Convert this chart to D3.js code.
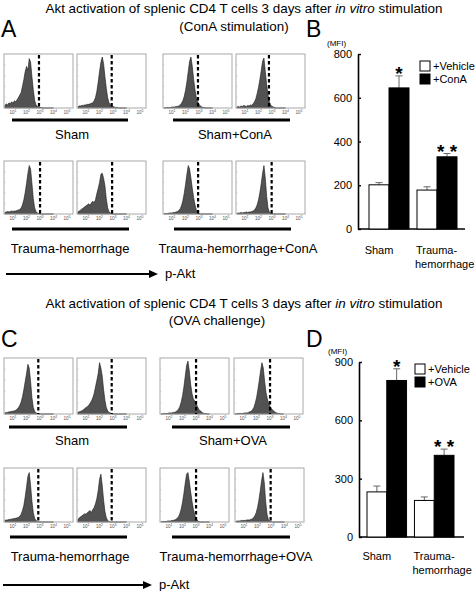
<!DOCTYPE html>
<html><head><meta charset="utf-8">
<script src="https://cdn.jsdelivr.net/npm/d3@7"></script>
<style>body{margin:0;background:#fff}svg{display:block;font-family:"Liberation Sans",Arial,sans-serif}</style>
</head><body><svg id="c" width="475" height="591"></svg>
<script>
// ---------- DATA ----------
// histogram bins (log10 of p-Akt fluorescence)
const binsLog = [0.4,0.5,0.6,0.7,0.8,0.9,1.0,1.1,1.2,1.3,1.4,1.5,1.6,1.7,1.8,1.9,2.0,2.1,2.2,2.3,2.4,2.5,2.6,2.7,2.8,2.9,3.0,3.1,3.2,3.3,3.4,3.5,3.6,3.7,3.8,3.9,4.0];
const axisDecades = [1,2,3,4,5];
// ConA panels (A)
const histShamVeh1   = [5,8,6,10,8,12,9,14,12,16,20,25,30,42,55,70,80,72,95,88,60,35,15,6,3,2,1,1,0,0,0,0,0,0,0,0,0];
const histShamVeh2   = [2,4,4,5,5,6,6,7,7,8,9,10,14,20,32,50,70,88,98,85,60,38,20,10,6,4,3,2,1,1,0,0,0,0,0,0,0];
const histShamConA1  = [0,0,1,1,1,1,2,2,2,3,3,4,6,9,14,22,34,50,70,90,98,80,55,35,20,12,7,4,2,1,1,0,0,0,0,0,0];
const histShamConA2  = [2,3,2,4,3,5,4,3,5,4,6,5,8,12,18,28,40,55,72,90,96,70,45,25,12,6,3,2,1,0,0,0,0,0,0,0,0];
const histTHVeh1     = [3,4,5,4,5,6,5,6,6,7,8,9,12,18,28,42,60,80,95,88,60,30,12,5,2,1,1,0,0,0,0,0,0,0,0,0,0];
const histTHVeh2     = [4,6,8,10,12,14,16,18,20,17,22,25,22,28,40,50,62,78,80,70,55,30,12,5,2,1,0,0,0,0,0,0,0,0,0,0,0];
const histTHConA1    = [0,1,1,1,2,2,2,3,3,4,5,7,10,16,26,40,58,78,95,88,70,50,32,18,8,3,1,0,0,0,0,0,0,0,0,0,0];
const histTHConA2    = [1,2,2,3,2,3,3,4,3,4,4,5,6,8,12,18,28,42,60,80,95,70,35,12,4,2,1,0,0,0,0,0,0,0,0,0,0];
// OVA panels (C)
const histShamVehC1  = [2,3,3,4,4,5,5,6,7,9,12,16,22,32,45,60,75,92,85,60,30,12,5,2,1,0,0,0,0,0,0,0,0,0,0,0,0];
const histShamVehC2  = [3,4,5,6,8,10,12,14,16,20,24,30,38,50,62,75,95,85,70,45,25,12,6,3,2,1,0,0,0,0,0,0,0,0,0,0,0];
const histShamOVA1   = [0,0,1,1,1,1,2,2,2,3,3,4,6,9,14,22,34,50,70,90,98,80,55,38,28,24,20,14,9,6,4,2,1,1,0,0,0];
const histShamOVA2   = [0,0,1,1,1,1,1,2,2,2,3,4,5,8,12,20,30,45,62,80,95,85,60,40,28,20,14,10,7,5,3,2,1,1,0,0,0];
const histTHVehC1    = [3,4,4,5,5,6,6,7,7,8,9,11,15,22,32,48,68,88,95,70,40,18,7,3,1,0,0,0,0,0,0,0,0,0,0,0,0];
const histTHVehC2    = [5,8,10,12,14,16,15,18,20,22,18,24,28,35,45,60,82,92,70,42,20,8,3,1,0,0,0,0,0,0,0,0,0,0,0,0,0];
const histTHOVA1     = [0,1,1,1,1,2,2,2,3,3,4,5,7,10,16,25,38,55,75,92,95,78,58,40,25,14,7,3,1,0,0,0,0,0,0,0,0];
const histTHOVA2     = [1,2,2,2,3,3,3,3,4,4,4,5,6,8,12,18,28,42,60,80,95,75,40,15,5,2,1,0,0,0,0,0,0,0,0,0,0];
// gate (dashed) positions, log10
const gatesA = [2.92,2.9,2.92,2.77,3.0,2.93,2.93,2.97];
const gatesC = [2.87,2.9,3.0,3.0,2.87,2.9,3.0,2.97];
const groupLabelsA = ["Sham","Sham+ConA","Trauma-hemorrhage","Trauma-hemorrhage+ConA"];
const groupLabelsC = ["Sham","Sham+OVA","Trauma-hemorrhage","Trauma-hemorrhage+OVA"];

// bar charts
const barGroups = ["Sham","Trauma-hemorrhage"];
const seriesB = ["+Vehicle","+ConA"];
const seriesD = ["+Vehicle","+OVA"];
const mfiVehicleB = [202,178];
const mfiVehicleBErr = [10,15];
const mfiConA = [645,330];
const mfiConAErr = [55,15];
const ticksB = [0,200,400,600,800];
const mfiVehicleD = [232,188];
const mfiVehicleDErr = [30,18];
const mfiOVA = [805,420];
const mfiOVAErr = [60,32];
const ticksD = [0,300,600,900];
const sigMarks = ["*","* *"];

// ---------- DRAWING ----------
const svg = d3.select("#c");
const FONT = '"Liberation Sans",Arial,sans-serif';

function drawHist(x0, y0, w, h, counts, gate){
  const g = svg.append("g");
  const x = d3.scaleLinear().domain([0.33,5.44]).range([x0, x0+w]);
  const y = d3.scaleLinear().domain([0,100]).range([y0+h, y0+2]);
  const area = d3.area().x((d,i)=>x(binsLog[i])).y0(y0+h).y1(d=>y(d));
  g.append("path").datum(counts).attr("d",area).attr("fill","#525252").attr("stroke","#1a1a1a").attr("stroke-width",0.6);
  g.append("rect").attr("x",x0).attr("y",y0).attr("width",w).attr("height",h)
    .attr("fill","none").attr("stroke","#a8a8a8").attr("stroke-width",1);
  [0.2,0.4,0.6,0.8].forEach(f=>{
    g.append("line").attr("x1",x0).attr("x2",x0+1.5).attr("y1",y0+h*f).attr("y2",y0+h*f).attr("stroke","#bbb").attr("stroke-width",0.6);
  });
  g.append("line").attr("x1",x(gate)).attr("x2",x(gate)).attr("y1",y0+1).attr("y2",y0+h)
    .attr("stroke","#000").attr("stroke-width",2.2).attr("stroke-dasharray","3.5,2.5");
  axisDecades.forEach(e=>{
    const t = g.append("text").attr("x",x(e)).attr("y",y0+h+6).attr("text-anchor","middle")
      .attr("font-size",4.6).attr("fill","#555");
    t.append("tspan").text("10");
    t.append("tspan").attr("font-size",3.6).attr("dy",-1.6).text(e);
  });
}

function drawSection(cfg){
  const hists = cfg.hists;
  cfg.rows.forEach((row,ri)=>{
    row.xs.forEach((xx,ci)=>{
      const k = ri*4+ci;
      drawHist(xx, row.top, 69, row.h, hists[k], cfg.gates[k]);
    });
    row.lines.forEach((ln,li)=>{
      svg.append("line").attr("x1",ln[0]).attr("x2",ln[1]).attr("y1",row.lineY).attr("y2",row.lineY)
        .attr("stroke","#000").attr("stroke-width",3);
      svg.append("text").attr("x",row.labelX[li]).attr("y",row.labelY).attr("text-anchor","middle")
        .attr("font-size",13).text(cfg.labels[ri*2+li]);
    });
  });
  svg.append("line").attr("x1",cfg.arrow[0]).attr("x2",cfg.arrow[1]-6).attr("y1",cfg.arrowY).attr("y2",cfg.arrowY)
    .attr("stroke","#000").attr("stroke-width",2);
  svg.append("path").attr("d",`M${cfg.arrow[1]-9},${cfg.arrowY-4} L${cfg.arrow[1]},${cfg.arrowY} L${cfg.arrow[1]-9},${cfg.arrowY+4} Z`).attr("fill","#000");
  svg.append("text").attr("x",cfg.arrow[1]+7).attr("y",cfg.arrowY+4).attr("font-size",13).text("p-Akt");
}

function drawTitle(y1, y2, x2, sub){
  const t = svg.append("text").attr("x",244).attr("y",y1).attr("text-anchor","middle").attr("font-size",13.4);
  t.append("tspan").text("Akt activation of splenic CD4 T cells 3 days after ");
  t.append("tspan").attr("font-style","italic").text("in vitro");
  t.append("tspan").text(" stimulation");
  svg.append("text").attr("x",x2).attr("y",y2).attr("text-anchor","middle").attr("font-size",13.4).text(sub);
}

function letter(x,y,s){ svg.append("text").attr("x",x).attr("y",y).attr("font-size",23).text(s); }

function drawBars(cfg){
  const y = d3.scaleLinear().domain([0,cfg.max]).range([cfg.y0, cfg.y1]);
  const xg = d3.scaleBand().domain(barGroups).range([cfg.gx0, cfg.gx1]).paddingInner(1/6).paddingOuter(0);
  const xs = d3.scaleBand().domain(cfg.series).range([0, xg.bandwidth()]);
  const g = svg.append("g");
  const ax = g.append("g").attr("transform",`translate(${cfg.ax},0)`)
    .call(d3.axisLeft(y).tickValues(cfg.ticks).tickSizeInner(-3).tickSizeOuter(0).tickPadding(6));
  ax.select(".domain").attr("stroke","#000").attr("stroke-width",1.6);
  ax.selectAll(".tick line").attr("stroke","#000").attr("stroke-width",1.4);
  ax.selectAll("text").attr("font-size",11).attr("font-family",FONT).attr("fill","#000");
  g.append("line").attr("x1",cfg.ax).attr("x2",cfg.axEnd).attr("y1",y(0)).attr("y2",y(0)).attr("stroke","#000").attr("stroke-width",1.6);
  const sets = [[cfg.veh,cfg.vehErr,"#fff"],[cfg.stim,cfg.stimErr,"#000"]];
  sets.forEach((s,si)=>{
    barGroups.forEach((grp,gi)=>{
      const bx = xg(grp)+xs(cfg.series[si]);
      const bw = xs.bandwidth();
      const top = y(s[0][gi]);
      const et = y(s[0][gi]+s[1][gi]);
      g.append("line").attr("x1",bx+bw/2).attr("x2",bx+bw/2).attr("y1",top).attr("y2",et).attr("stroke","#666").attr("stroke-width",1);
      g.append("line").attr("x1",bx+bw/2-3.5).attr("x2",bx+bw/2+3.5).attr("y1",et).attr("y2",et).attr("stroke","#666").attr("stroke-width",1);
      g.append("rect").attr("x",bx).attr("y",top).attr("width",bw).attr("height",y(0)-top)
        .attr("fill",s[2]).attr("stroke","#000").attr("stroke-width",1);
      if(si===1){
        g.append("text").attr("x",bx+bw/2).attr("y",et-7+0.58*19).attr("text-anchor","middle")
          .attr("font-size",19).attr("font-weight","bold").text(sigMarks[gi]);
      }
    });
  });
  cfg.series.forEach((s,i)=>{
    const ly = cfg.legY + i*13;
    g.append("rect").attr("x",cfg.legX).attr("y",ly).attr("width",10).attr("height",10)
      .attr("fill",i? "#000":"#fff").attr("stroke","#000").attr("stroke-width",1);
    g.append("text").attr("x",cfg.legX+13).attr("y",ly+9).attr("font-size",11).text(s);
  });
  g.append("text").attr("x",xg("Sham")+xg.bandwidth()/2-10).attr("y",cfg.catY).attr("text-anchor","middle").attr("font-size",11).text("Sham");
  g.append("text").attr("x",xg("Trauma-hemorrhage")-1).attr("y",cfg.catY).attr("font-size",11).text("Trauma-");
  g.append("text").attr("x",xg("Trauma-hemorrhage")-2).attr("y",cfg.catY+14).attr("font-size",11).text("hemorrhage");
  g.append("text").attr("x",cfg.ax-31).attr("y",cfg.y1-8).attr("font-size",8).text("(MFI)");
}

// ----- Section A/B -----
drawTitle(13, 31, 234, "(ConA stimulation)");
letter(1,37,"A"); letter(306,37,"B");
drawSection({
  hists:[histShamVeh1,histShamVeh2,histShamConA1,histShamConA2,histTHVeh1,histTHVeh2,histTHConA1,histTHConA2],
  gates:gatesA, labels:groupLabelsA,
  rows:[
    {top:54,h:54,xs:[4,77,163,236],lines:[[12,128],[173,290]],lineY:120,labelX:[72,235],labelY:139},
    {top:161,h:53,xs:[4,77,163,236],lines:[[12,129],[174,291]],lineY:229,labelX:[70,238],labelY:253}
  ],
  arrow:[6,158], arrowY:274
});
drawBars({max:800,y0:229,y1:54,gx0:369,gx1:457,ax:358,axEnd:465,ticks:ticksB,series:seriesB,
  veh:mfiVehicleB,vehErr:mfiVehicleBErr,stim:mfiConA,stimErr:mfiConAErr,legX:420,legY:61,catY:254});

// ----- Section C/D -----
drawTitle(308, 325, 217, "(OVA challenge)");
letter(1,347,"C"); letter(306,347,"D");
drawSection({
  hists:[histShamVehC1,histShamVehC2,histShamOVA1,histShamOVA2,histTHVehC1,histTHVehC2,histTHOVA1,histTHOVA2],
  gates:gatesC, labels:groupLabelsC,
  rows:[
    {top:358,h:56,xs:[4,77,160,234],lines:[[9,127],[172,290]],lineY:427,labelX:[72,233],labelY:445},
    {top:468,h:54,xs:[4,77,160,235],lines:[[10,127],[172,290]],lineY:537,labelX:[70,236],labelY:561}
  ],
  arrow:[3,152], arrowY:585
});
drawBars({max:900,y0:537,y1:362,gx0:367,gx1:454,ax:359,axEnd:464,ticks:ticksD,series:seriesD,
  veh:mfiVehicleD,vehErr:mfiVehicleDErr,stim:mfiOVA,stimErr:mfiOVAErr,legX:415,legY:364,catY:560});
</script></body></html>
